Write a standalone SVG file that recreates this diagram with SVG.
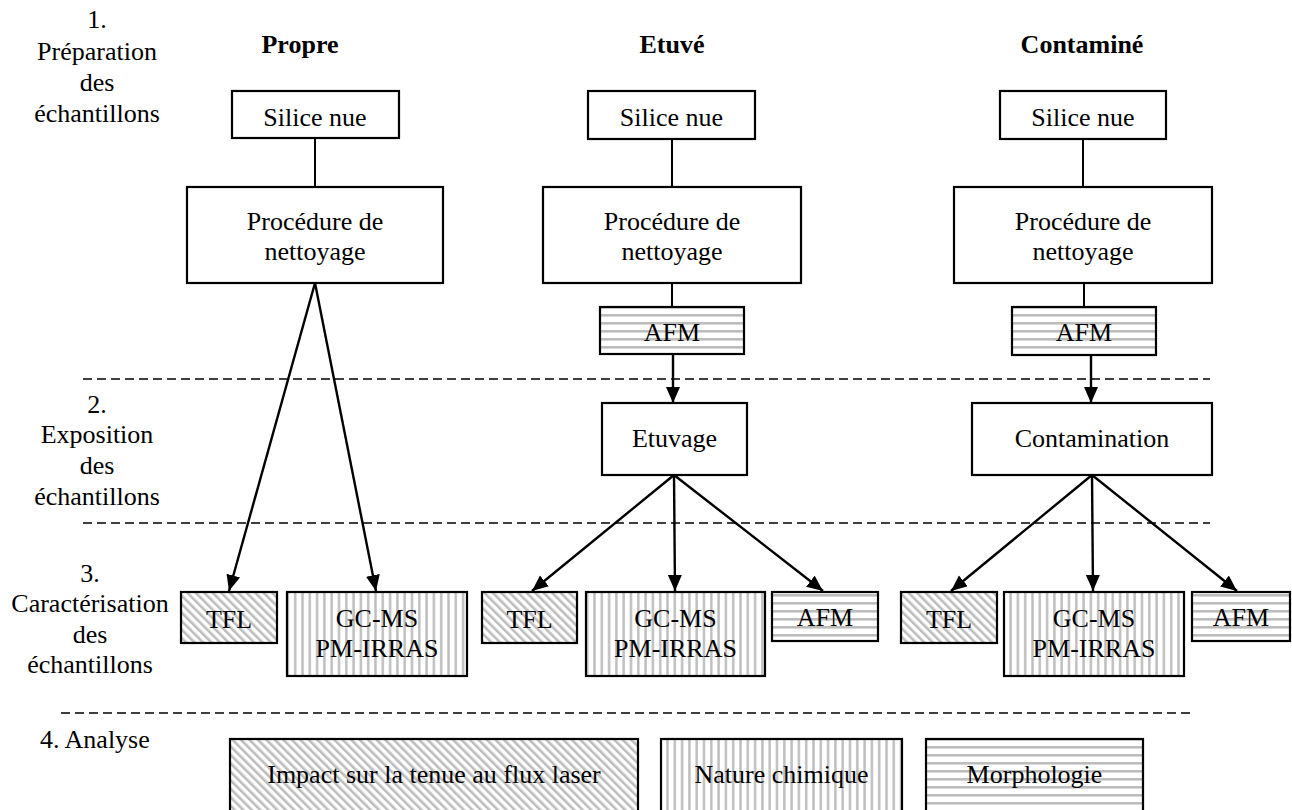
<svg xmlns="http://www.w3.org/2000/svg" width="1292" height="810" viewBox="0 0 1292 810">
<style>
text{font-family:"Times New Roman","Liberation Serif",serif;font-weight:normal;font-size:26px;fill:#000;text-anchor:middle}
.h{font-weight:bold}
.box{fill:#fff;stroke:#000;stroke-width:2.2}
.tfl{fill:url(#diag);stroke:#000;stroke-width:2.2}
.chem{fill:url(#vert);stroke:#000;stroke-width:2.2}
.afm{fill:url(#horiz);stroke:#000;stroke-width:2.2}
.ln{stroke:#000;stroke-width:2;fill:none}
.arr{stroke:#000;stroke-width:2.4;fill:none;marker-end:url(#ah)}
.dash{stroke:#000;stroke-width:1.6;stroke-dasharray:9 5;fill:none}
</style>
<defs>
<pattern id="diag" width="6" height="6" patternUnits="userSpaceOnUse" patternTransform="rotate(-45)">
<rect width="6" height="6" fill="#fff"/><rect width="2.6" height="6" fill="#bdbdbd"/>
</pattern>
<pattern id="vert" width="7.3" height="8" patternUnits="userSpaceOnUse">
<rect width="7.3" height="8" fill="#fff"/><rect x="2" width="2.4" height="8" fill="#bdbdbd"/>
</pattern>
<pattern id="horiz" width="8" height="8" patternUnits="userSpaceOnUse">
<rect width="8" height="8" fill="#fff"/><rect y="2" width="8" height="2.6" fill="#bdbdbd"/>
</pattern>
<marker id="ah" markerUnits="userSpaceOnUse" markerWidth="17" markerHeight="15" refX="16" refY="7" orient="auto">
<path d="M0,0 L16,7 L0,14 z" fill="#000"/>
</marker>
</defs>
<rect width="1292" height="810" fill="#fff"/>

<g id="phase-labels">
<text x="97" y="28">1.</text>
<text x="97" y="60">Préparation</text>
<text x="97" y="91">des</text>
<text x="97" y="122">échantillons</text>
<text x="97" y="413">2.</text>
<text x="97" y="443">Exposition</text>
<text x="97" y="474">des</text>
<text x="97" y="505">échantillons</text>
<text x="90" y="582">3.</text>
<text x="90" y="612">Caractérisation</text>
<text x="90" y="643">des</text>
<text x="90" y="673">échantillons</text>
<text x="40" y="748" style="text-anchor:start">4. Analyse</text>
</g>

<g id="headers">
<text class="h" x="300" y="53">Propre</text>
<text class="h" x="672" y="53">Etuvé</text>
<text class="h" x="1082" y="53">Contaminé</text>
</g>

<g id="separators">
<line class="dash" x1="83" y1="379" x2="1210" y2="379"/>
<line class="dash" x1="83" y1="523" x2="1210" y2="523"/>
<line class="dash" x1="61" y1="713" x2="1190" y2="713"/>
</g>

<g id="connectors">
<line class="ln" x1="315" y1="138" x2="315" y2="187"/>
<line class="arr" x1="315" y1="283" x2="229" y2="591"/>
<line class="arr" x1="315" y1="283" x2="376" y2="591"/>
<line class="ln" x1="672" y1="139" x2="672" y2="187"/>
<line class="ln" x1="672" y1="283" x2="672" y2="307"/>
<line class="arr" x1="673" y1="354" x2="673" y2="403"/>
<line class="arr" x1="674" y1="475" x2="532" y2="591"/>
<line class="arr" x1="674" y1="475" x2="675" y2="591"/>
<line class="arr" x1="674" y1="475" x2="823" y2="591"/>
<line class="ln" x1="1083" y1="139" x2="1083" y2="187"/>
<line class="ln" x1="1084" y1="283" x2="1084" y2="307"/>
<line class="arr" x1="1091" y1="355" x2="1091" y2="403"/>
<line class="arr" x1="1092" y1="475" x2="951" y2="591"/>
<line class="arr" x1="1092" y1="475" x2="1093" y2="591"/>
<line class="arr" x1="1092" y1="475" x2="1237" y2="591"/>
</g>

<g id="propre-silice"><rect class="box" x="232" y="91" width="167" height="47"/><text x="315" y="126">Silice nue</text></g>
<g id="propre-nettoyage"><rect class="box" x="187" y="187" width="256" height="96"/><text x="315" y="230">Procédure de</text><text x="315" y="260">nettoyage</text></g>
<g id="propre-tfl"><rect class="tfl" x="181" y="592" width="96" height="51"/><text x="229" y="628">TFL</text></g>
<g id="propre-gcms"><rect class="chem" x="287" y="592" width="180" height="84"/><text x="377" y="627">GC-MS</text><text x="377" y="657">PM-IRRAS</text></g>

<g id="etuve-silice"><rect class="box" x="588" y="91" width="167" height="48"/><text x="671.5" y="126">Silice nue</text></g>
<g id="etuve-nettoyage"><rect class="box" x="543" y="187" width="258" height="96"/><text x="672" y="230">Procédure de</text><text x="672" y="260">nettoyage</text></g>
<g id="etuve-afm1"><rect class="afm" x="600" y="307" width="144" height="47"/><text x="672" y="341">AFM</text></g>
<g id="etuve-etuvage"><rect class="box" x="602" y="403" width="145" height="72"/><text x="674.5" y="447">Etuvage</text></g>
<g id="etuve-tfl"><rect class="tfl" x="482" y="592" width="95" height="51"/><text x="529.5" y="628">TFL</text></g>
<g id="etuve-gcms"><rect class="chem" x="586" y="592" width="179" height="84"/><text x="675.5" y="627">GC-MS</text><text x="675.5" y="657">PM-IRRAS</text></g>
<g id="etuve-afm2"><rect class="afm" x="772" y="592" width="106" height="49"/><text x="825" y="626">AFM</text></g>

<g id="cont-silice"><rect class="box" x="1000" y="91" width="166" height="48"/><text x="1083" y="126">Silice nue</text></g>
<g id="cont-nettoyage"><rect class="box" x="954" y="187" width="258" height="96"/><text x="1083" y="230">Procédure de</text><text x="1083" y="260">nettoyage</text></g>
<g id="cont-afm1"><rect class="afm" x="1012" y="307" width="144" height="48"/><text x="1084" y="341">AFM</text></g>
<g id="cont-contamination"><rect class="box" x="972" y="403" width="240" height="72"/><text x="1092" y="447">Contamination</text></g>
<g id="cont-tfl"><rect class="tfl" x="901" y="592" width="96" height="51"/><text x="949" y="628">TFL</text></g>
<g id="cont-gcms"><rect class="chem" x="1004" y="592" width="180" height="84"/><text x="1094" y="627">GC-MS</text><text x="1094" y="657">PM-IRRAS</text></g>
<g id="cont-afm2"><rect class="afm" x="1192" y="592" width="98" height="49"/><text x="1241" y="626">AFM</text></g>

<g id="analyse-impact"><rect class="tfl" x="230" y="739" width="408" height="74"/><text x="434" y="783">Impact sur la tenue au flux laser</text></g>
<g id="analyse-nature"><rect class="chem" x="661" y="739" width="241" height="74"/><text x="781.5" y="783">Nature chimique</text></g>
<g id="analyse-morpho"><rect class="afm" x="926" y="739" width="217" height="74"/><text x="1034.5" y="783">Morphologie</text></g>
</svg>
